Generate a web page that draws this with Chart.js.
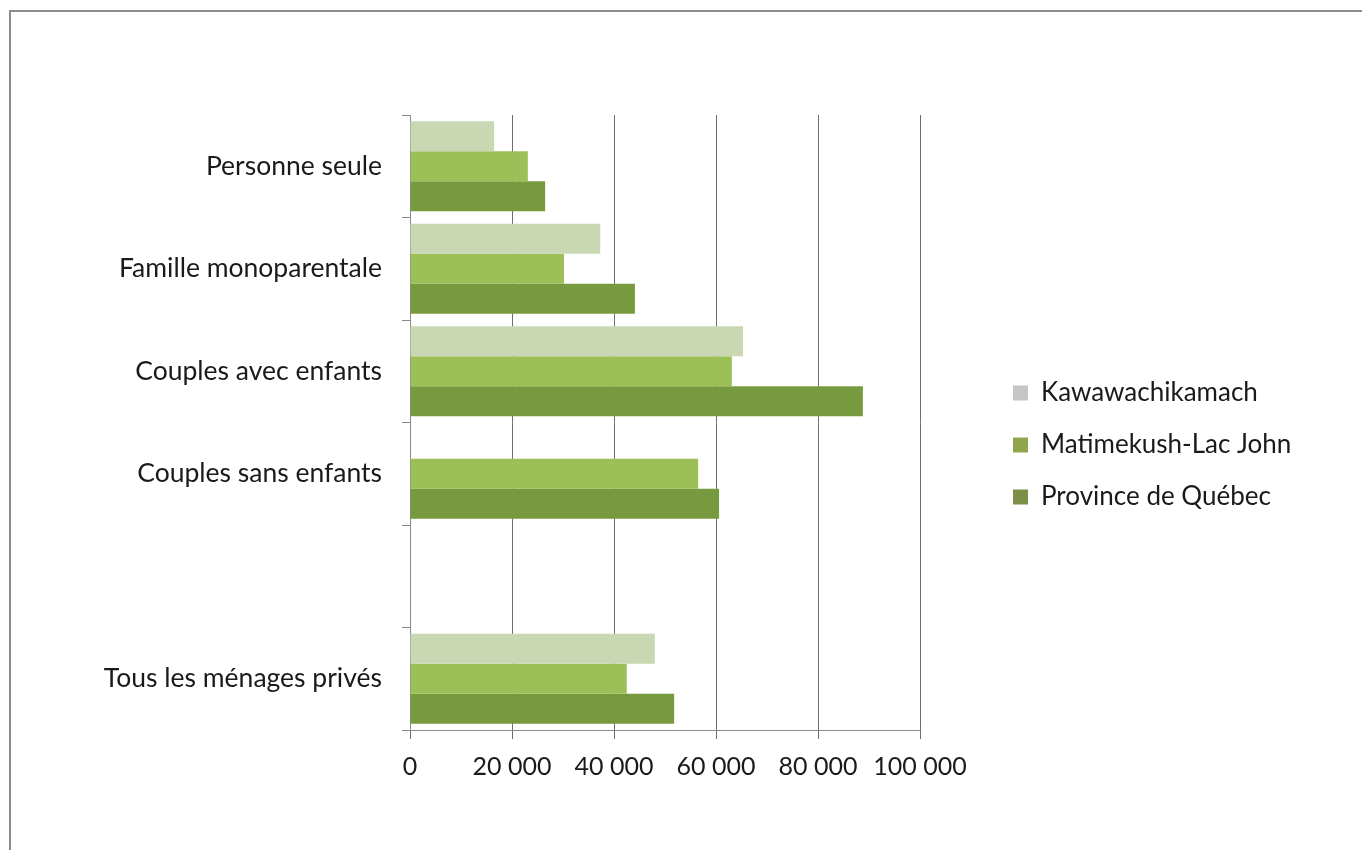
<!DOCTYPE html>
<html>
<head>
<meta charset="utf-8">
<script src="https://cdn.jsdelivr.net/npm/chart.js@4/dist/chart.umd.min.js"></script>
<style>
  html, body { margin: 0; padding: 0; background: #ffffff; }
  #wrap { position: relative; width: 1362px; height: 850px; overflow: hidden; background: #fff; }
  #frame { position: absolute; left: 9px; top: 10px; width: 1400px; height: 900px;
           border-top: 2px solid #8c8c8c; border-left: 2px solid #8c8c8c; box-sizing: border-box; }
  #c { position: absolute; left: 0; top: 0; }
</style>
</head>
<body>
<div id="wrap">
  <div id="frame"></div>
  <canvas id="c" width="1362" height="850"></canvas>
</div>
<script>
const categories = ['Personne seule', 'Famille monoparentale', 'Couples avec enfants', 'Couples sans enfants', '', 'Tous les ménages privés'];
const seriesNames = ['Kawawachikamach', 'Matimekush-Lac John', 'Province de Québec'];
const kawawachikamach = [16500, 37300, 65300, null, null, 48000];
const matimekush = [23100, 30200, 63100, 56500, null, 42500];
const province = [26500, 44100, 88800, 60600, null, 51800];
const xTickLabels = ['0', '20 000', '40 000', '60 000', '80 000', '100 000'];

const barColors = ['#c9d8b2', '#9cbf57', '#789a3e'];
const legendColors = ['#c6c6c6', '#8fa64c', '#7b8f45'];
const FONT = 'Lato, "Open Sans", sans-serif';

// moves the legend block to where the reference shows it
const legendPlacer = {
  id: 'legendPlacer',
  afterLayout(chart) {
    const lg = chart.legend;
    if (!lg) return;
    const w = lg.width;
    lg.left = 987; lg.right = 987 + w;
    lg.top = 117; lg.bottom = 773;
  }
};

new Chart(document.getElementById('c'), {
  type: 'bar',
  data: {
    labels: categories,
    datasets: [
      { label: seriesNames[0], data: kawawachikamach, backgroundColor: barColors[0] },
      { label: seriesNames[1], data: matimekush, backgroundColor: barColors[1] },
      { label: seriesNames[2], data: province, backgroundColor: barColors[2] }
    ]
  },
  plugins: [legendPlacer],
  options: {
    indexAxis: 'y',
    responsive: false,
    animation: false,
    devicePixelRatio: 1,
    datasets: { bar: { categoryPercentage: 0.878, barPercentage: 1.0 } },
    layout: { padding: { top: 115, bottom: 0, left: 0, right: 0 } },
    plugins: {
      tooltip: { enabled: false },
      legend: {
        position: 'right',
        align: 'center',
        labels: {
          font: { family: FONT, size: 26 },
          color: '#1a1a1a',
          boxWidth: 15,
          boxHeight: 15,
          padding: 26,
          generateLabels: (chart) => chart.data.datasets.map((ds, i) => ({
            text: ds.label,
            fillStyle: legendColors[i],
            strokeStyle: legendColors[i],
            lineWidth: 0,
            hidden: false,
            datasetIndex: i,
            fontColor: '#1a1a1a'
          }))
        }
      }
    },
    scales: {
      x: {
        min: 0, max: 100000,
        ticks: {
          stepSize: 20000,
          font: { family: FONT, size: 25 },
          color: '#1a1a1a',
          padding: 13,
          maxRotation: 0,
          callback: (v) => xTickLabels[Math.round(v / 20000)]
        },
        grid: { color: '#6e6e6e', lineWidth: 1, tickLength: 9, drawOnChartArea: true },
        border: { display: true, color: '#8a8a8a', width: 1 },
        afterFit: (s) => { s.height = 120; s.paddingRight = 442; }
      },
      y: {
        ticks: { font: { family: FONT, size: 26.5 }, color: '#1a1a1a', padding: 20 },
        grid: { offset: true, drawOnChartArea: false, color: '#8a8a8a', tickLength: 8 },
        border: { display: true, color: '#8a8a8a', width: 1 },
        afterFit: (s) => { s.width = 410; }
      }
    }
  }
});
</script>
</body>
</html>
